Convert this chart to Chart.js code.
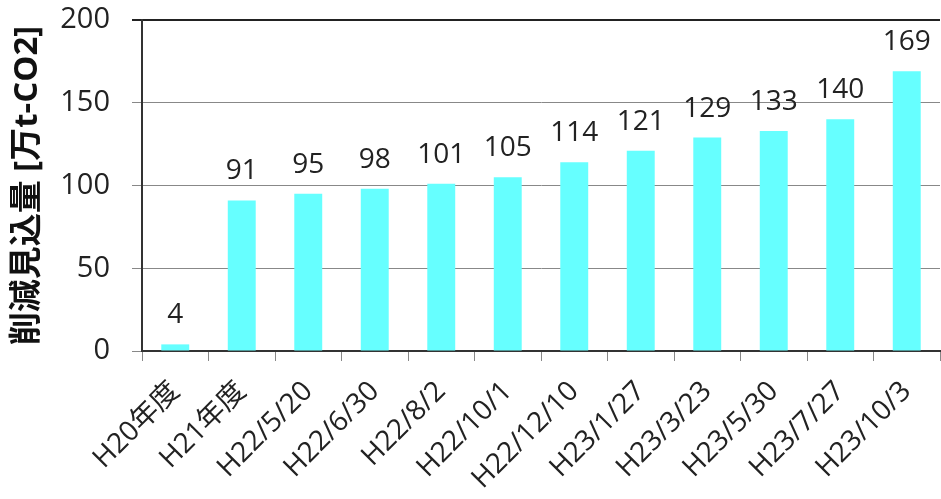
<!DOCTYPE html>
<html><head><meta charset="utf-8">
<script src="https://cdn.jsdelivr.net/npm/chart.js@4"></script>
<style>html,body{margin:0;padding:0;background:#fff;}#wrap{width:941px;height:499px;}</style>
</head><body><div id="wrap"><canvas id="c"></canvas></div>
<script>
const categories = ["H20年度","H21年度","H22/5/20","H22/6/30","H22/8/2","H22/10/1","H22/12/10","H23/1/27","H23/3/23","H23/5/30","H23/7/27","H23/10/3"];
const values = [4,91,95,98,101,105,114,121,129,133,140,169];
const yTicks = [0,50,100,150,200];
const yTitle = "削減見込量 [万t-CO2]";
const FONT = "'Open Sans','Noto Sans CJK JP',sans-serif";

const labelPlugin = {
  id:'barLabels',
  afterDatasetsDraw(chart){
    const ctx = chart.ctx;
    const meta = chart.getDatasetMeta(0);
    ctx.save();
    ctx.font = "28px " + FONT;
    ctx.fillStyle = '#222';
    ctx.textAlign = 'center';
    ctx.textBaseline = 'alphabetic';
    meta.data.forEach((bar,i)=>{
      ctx.fillText(String(values[i]), bar.x, bar.y - 21);
    });
    ctx.restore();
  }
};

new Chart(document.getElementById('c'),{
  type:'bar',
  data:{labels:categories,datasets:[{data:values,backgroundColor:'#66FFFF',borderWidth:0,categoryPercentage:1,barPercentage:0.42}]},
  options:{
    responsive:true,maintainAspectRatio:false,animation:false,
    layout:{padding:{top:20,right:1,left:0,bottom:0}},
    plugins:{legend:{display:false},tooltip:{enabled:false}},
    scales:{
      x:{
        offset:true,
        grid:{offset:true,drawOnChartArea:false,drawTicks:true,tickLength:10,color:'#888',lineWidth:1},
        border:{display:true,color:'#333',width:2},
        ticks:{minRotation:45,maxRotation:45,autoSkip:false,color:'#222',font:{family:FONT,size:28},padding:14},
        afterFit(s){s.height=148;s.paddingLeft=0;s.paddingRight=0;}
      },
      y:{
        min:0,max:200,
        afterBuildTicks(s){s.ticks=yTicks.map(v=>({value:v}));},
        grid:{color:(c)=>c.tick&&c.tick.value===200?'#222':'#888',lineWidth:(c)=>c.tick&&c.tick.value===200?2:1,tickLength:10},
        border:{display:true,color:'#333',width:2},
        ticks:{color:'#222',font:{family:FONT,size:29},padding:22},
        title:{display:true,text:yTitle,color:'#111',font:{family:FONT,size:33,weight:'bold'},padding:{top:8,bottom:0}},
        afterFit(s){s.width=142;s.paddingTop=0;s.paddingBottom=0;}
      }
    }
  },
  plugins:[labelPlugin]
});
</script></body></html>
